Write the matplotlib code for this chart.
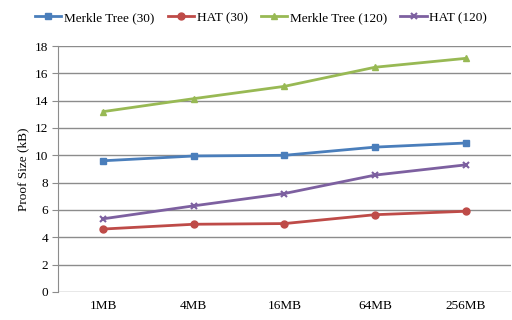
import matplotlib
matplotlib.use("Agg")
import matplotlib.pyplot as plt
import numpy as np

plt.rcParams['font.family'] = ['Liberation Serif', 'DejaVu Serif']

sizes = ['1MB', '4MB', '16MB', '64MB', '256MB']
merkle_30 = [9.6, 9.95, 10.0, 10.6, 10.9]
hat_30 = [4.6, 4.95, 5.0, 5.65, 5.9]
merkle_120 = [13.2, 14.15, 15.05, 16.45, 17.1]
hat_120 = [5.35, 6.3, 7.2, 8.55, 9.3]

x = np.arange(len(sizes))

fig = plt.figure(figsize=(5.12, 3.2), dpi=100)
ax = fig.add_axes([0.113, 0.088, 0.885, 0.768])

ax.plot(x, merkle_30, color='#4a7ebb', marker='s', markersize=5, linewidth=2, label='Merkle Tree (30)')
ax.plot(x, hat_30, color='#be4b48', marker='o', markersize=5, linewidth=2, label='HAT (30)')
ax.plot(x, merkle_120, color='#98b954', marker='^', markersize=5, linewidth=2, label='Merkle Tree (120)')
ax.plot(x, hat_120, color='#7d60a0', marker='x', markersize=5, markeredgewidth=1.5, linewidth=2, label='HAT (120)')

ax.set_xlim(-0.5, len(sizes) - 0.5)
ax.set_ylim(0, 18)
ax.set_yticks(range(0, 19, 2))
ax.set_xticks(x)
ax.set_xticklabels(sizes)
ax.set_ylabel('Proof Size (kB)', fontsize=9.5)
ax.tick_params(labelsize=9.5, length=0, pad=6)
ax.tick_params(axis='y', length=4, color='#8c8c8c', pad=3)
ax.yaxis.grid(True, color='#8c8c8c', linewidth=1)
ax.set_axisbelow(True)
for s in ['top', 'right', 'bottom']:
    ax.spines[s].set_visible(False)
ax.spines['left'].set_color('#8c8c8c')

fig.legend(loc='upper center', bbox_to_anchor=(0.51, 1.0), ncol=4, frameon=False,
           fontsize=9.5, handlelength=2.0, columnspacing=1.0, handletextpad=0.2)

fig.savefig('out.png', dpi=100)
